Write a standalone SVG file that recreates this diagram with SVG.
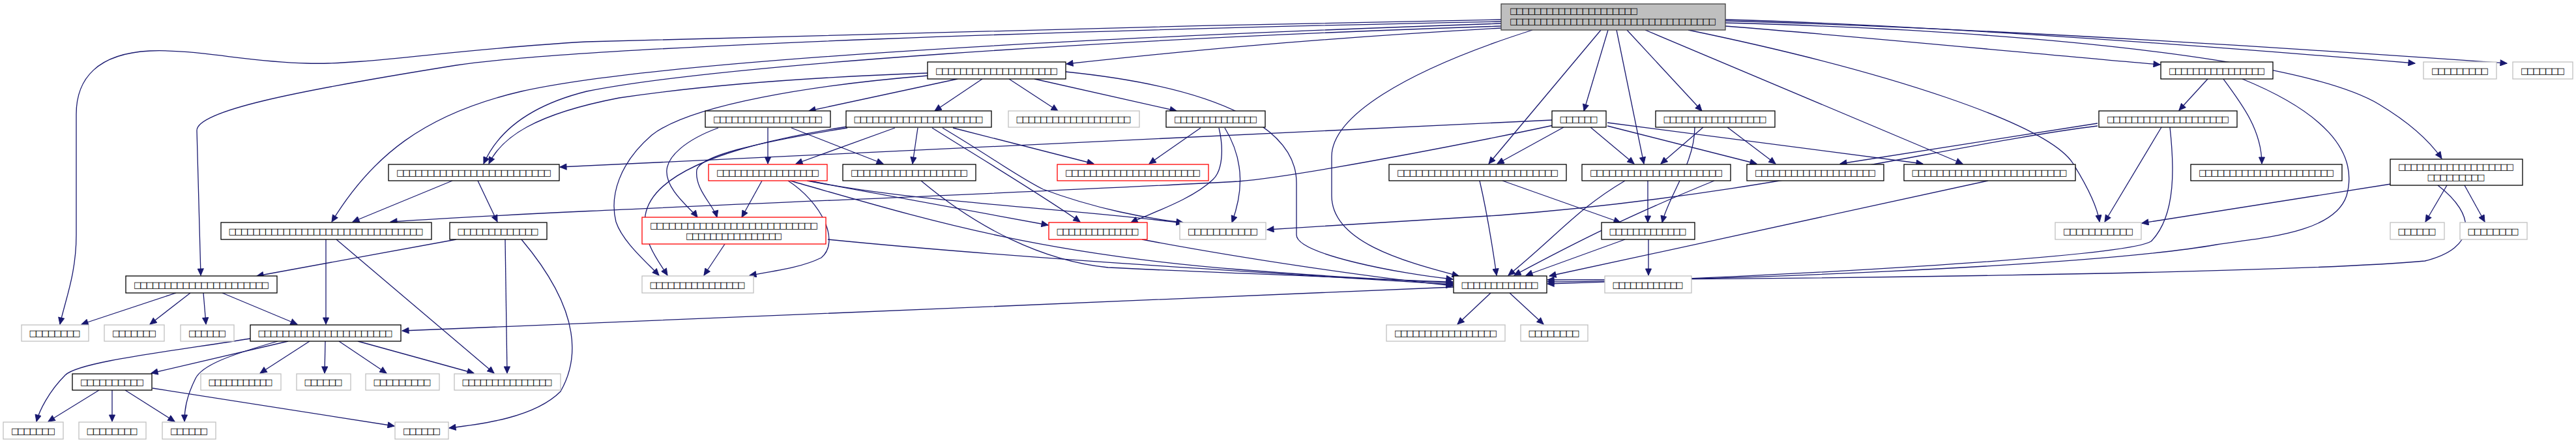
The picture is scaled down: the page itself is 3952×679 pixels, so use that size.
<svg xmlns="http://www.w3.org/2000/svg" width="3952" height="679" viewBox="0 0 3952 679">
<style>
.bk rect{fill:#fff;stroke:#000;stroke-width:1.3}
.gy rect{fill:#fff;stroke:#c0c0c0;stroke-width:1.3}
.rd rect{fill:#fff;stroke:#ff0000;stroke-width:1.3}
.root rect{fill:#bfbfbf;stroke:#404040;stroke-width:1.3}
text{font-family:"DejaVu Sans","Liberation Sans",sans-serif;font-size:13px;fill:#000;text-anchor:middle}
.lft{text-anchor:start}
#edges path{fill:none;stroke:#191970;stroke-width:1.3;marker-end:url(#ah)}
</style>
<defs>
<marker id="ah" viewBox="0 0 10 10" refX="10" refY="5" markerWidth="12" markerHeight="10" markerUnits="userSpaceOnUse" orient="auto">
<path d="M0,0.5 L10,5 L0,9.5 z" fill="#191970" stroke="#191970"/>
</marker>
</defs>
<rect width="3952" height="679" fill="#fff"/>
<g id="edges">
<path d="M2303,30 C1800,40 1100,55 900,64 C700,75 560,100 470,97 C380,95 300,75 230,78 C150,82 117,120 117,175 L117,360 C117,420 100,460 92,497"/>
<path d="M2303,33 C1700,45 900,70 700,100 C450,140 302,170 302,200 L308,422"/>
<path d="M2303,36 C1600,60 1000,95 800,140 C650,175 570,240 509,340"/>
<path d="M2303,40 C1700,60 1100,100 900,140 C800,165 760,210 742,251"/>
<path d="M1423,112 C1200,120 1050,135 950,150 C820,175 770,210 750,251"/>
<path d="M1423,116 C1250,130 1060,160 1000,207 C950,250 935,300 945,340 C955,370 990,400 1011,422"/>
<path d="M2303,43 C2000,60 1800,80 1636,98"/>
<path d="M1469,121 L1241,170"/>
<path d="M1507,121 L1434,170"/>
<path d="M1548,121 L1623,170"/>
<path d="M1587,121 L1805,170"/>
<path d="M1635,110 C1880,135 1989,200 1989,280 L1989,360 C1989,390 2150,420 2229,428"/>
<path d="M1102,196 C1050,215 1025,240 1023,260 C1020,290 1060,320 1070,333"/>
<path d="M1300,196 C1150,220 1075,240 1069,260 C1065,290 1095,315 1100,333"/>
<path d="M1300,194 C1100,225 1000,270 990,330 C985,370 1010,400 1024,422"/>
<path d="M1178,196 L1178,251"/>
<path d="M1214,196 L1355,251"/>
<path d="M1373,196 L1221,251"/>
<path d="M1408,196 L1400,251"/>
<path d="M1430,196 C1500,240 1600,300 1657,340"/>
<path d="M1446,196 C1520,240 1560,270 1600,290 C1680,320 1760,335 1815,341"/>
<path d="M1462,196 L1678,251"/>
<path d="M1842,196 L1763,251"/>
<path d="M1870,196 C1878,230 1875,262 1861,275 C1830,305 1770,325 1735,341"/>
<path d="M1879,196 C1912,250 1905,300 1890,341"/>
<path d="M2351,46 C2150,110 2043,180 2043,240 L2043,300 C2043,370 2150,400 2238,423"/>
<path d="M2456,46 L2284,251"/>
<path d="M2467,46 L2430,170"/>
<path d="M2480,46 L2522,251"/>
<path d="M2496,46 L2611,170"/>
<path d="M2524,46 L3011,251"/>
<path d="M2590,46 C2900,110 3140,190 3180,250 C3205,290 3218,320 3221,340"/>
<path d="M2647,40 C2900,60 3200,90 3314,99"/>
<path d="M2647,30 C3000,40 3500,80 3705,97"/>
<path d="M2647,32 C3100,45 3600,80 3846,97"/>
<path d="M2647,35 C3200,50 3550,100 3650,160 C3700,190 3730,220 3746,243"/>
<path d="M3387,121 L3343,169"/>
<path d="M3411,121 C3440,160 3470,200 3470,251"/>
<path d="M3440,121 C3560,170 3620,230 3600,300 C3580,360 3460,365 3400,375 C3200,410 2600,430 2374,432"/>
<path d="M3316,195 L3229,340"/>
<path d="M3329,195 C3335,250 3340,330 3300,370 C3260,395 2700,425 2374,435"/>
<path d="M3740,284 C3800,330 3800,380 3720,400 C3500,420 2700,428 2374,429"/>
<path d="M3668,282 L3286,342"/>
<path d="M3754,284 L3721,340"/>
<path d="M3781,284 L3812,340"/>
<path d="M3218,193 C3000,220 2700,300 2300,330 C2150,340 2050,345 1944,352"/>
<path d="M3218,189 L2823,251"/>
<path d="M2381,184 L859,256"/>
<path d="M2383,192 C2300,210 2000,270 1900,278 C1500,300 900,320 599,340"/>
<path d="M2399,195 L2297,251"/>
<path d="M2440,195 L2507,251"/>
<path d="M2466,193 L2695,251"/>
<path d="M2466,188 L2950,251"/>
<path d="M2613,195 L2548,251"/>
<path d="M2650,195 L2724,251"/>
<path d="M2600,195 C2600,250 2560,300 2550,341"/>
<path d="M2270,277 C2280,320 2290,380 2296,422"/>
<path d="M2305,277 L2486,341"/>
<path d="M2528,277 L2528,341"/>
<path d="M2493,277 C2420,320 2390,360 2314,422"/>
<path d="M2630,277 C2500,330 2420,370 2323,422"/>
<path d="M3050,277 C2900,310 2600,375 2377,423"/>
<path d="M2493,367 L2341,422"/>
<path d="M2529,367 L2529,422"/>
<path d="M2287,449 L2236,497"/>
<path d="M2316,449 L2368,497"/>
<path d="M2230,440 C1800,460 1000,490 617,507"/>
<path d="M1169,277 L1138,333"/>
<path d="M1209,277 C1260,310 1290,370 1260,395 C1230,410 1190,415 1150,422"/>
<path d="M1212,277 C1400,330 1574,387 1900,413 C2050,425 2150,430 2229,432"/>
<path d="M1238,277 L1608,345"/>
<path d="M1241,277 C1400,310 1650,320 1815,342"/>
<path d="M1112,374 L1080,422"/>
<path d="M1270,367 C1500,390 1800,410 2229,436"/>
<path d="M1413,277 C1500,350 1600,400 1700,410 C1900,420 2100,425 2229,434"/>
<path d="M1752,367 C1900,395 2100,425 2229,438"/>
<path d="M700,367 L394,423"/>
<path d="M775,367 L778,572"/>
<path d="M800,367 C870,450 900,530 860,600 C820,640 740,650 689,656"/>
<path d="M694,277 L541,340"/>
<path d="M733,277 L763,340"/>
<path d="M500,367 L500,497"/>
<path d="M516,367 L758,572"/>
<path d="M270,449 L125,497"/>
<path d="M292,449 L230,497"/>
<path d="M312,449 L316,497"/>
<path d="M341,449 L456,497"/>
<path d="M442,523 L232,572"/>
<path d="M384,519 C250,540 120,555 100,575 C75,600 60,630 56,646"/>
<path d="M426,523 C350,545 310,560 300,580 C285,610 283,630 283,646"/>
<path d="M475,523 L399,572"/>
<path d="M499,523 L498,572"/>
<path d="M520,523 L593,572"/>
<path d="M549,523 L727,572"/>
<path d="M152,598 L74,646"/>
<path d="M172,598 L172,646"/>
<path d="M192,598 L268,646"/>
<path d="M234,595 L605,653"/>
</g>
<g id="top" class="root"><rect x="2303" y="6" width="344" height="40"/><text class="lft" x="2316" y="21" textLength="197" lengthAdjust="spacing">□□□□□□□□□□□□□□□□□□□□□</text><text class="lft" x="2316" y="37" textLength="317" lengthAdjust="spacing">□□□□□□□□□□□□□□□□□□□□□□□□□□□□□□□□□□</text></g>
<g id="nA" class="bk"><rect x="1423" y="95" width="212" height="26"/><text x="1529" y="113" textLength="188" lengthAdjust="spacing">□□□□□□□□□□□□□□□□□□□□</text></g>
<g id="nE" class="bk"><rect x="3315" y="95" width="172" height="26"/><text x="3401" y="113" textLength="148" lengthAdjust="spacing">□□□□□□□□□□□□□□□□</text></g>
<g id="nF" class="gy"><rect x="3718" y="95" width="112" height="26"/><text x="3774" y="113" textLength="88" lengthAdjust="spacing">□□□□□□□□□</text></g>
<g id="nG" class="gy"><rect x="3855" y="95" width="92" height="26"/><text x="3901" y="113" textLength="68" lengthAdjust="spacing">□□□□□□□</text></g>
<g id="nH" class="bk"><rect x="1082" y="170" width="192" height="25"/><text x="1178" y="187" textLength="168" lengthAdjust="spacing">□□□□□□□□□□□□□□□□□□</text></g>
<g id="nI" class="bk"><rect x="1298" y="170" width="223" height="25"/><text x="1409" y="187" textLength="199" lengthAdjust="spacing">□□□□□□□□□□□□□□□□□□□□□</text></g>
<g id="nJ" class="gy"><rect x="1547" y="170" width="201" height="25"/><text x="1647" y="187" textLength="177" lengthAdjust="spacing">□□□□□□□□□□□□□□□□□□□</text></g>
<g id="nK" class="bk"><rect x="1789" y="170" width="152" height="25"/><text x="1865" y="187" textLength="128" lengthAdjust="spacing">□□□□□□□□□□□□□□</text></g>
<g id="nL" class="bk"><rect x="2381" y="170" width="83" height="25"/><text x="2422" y="187" textLength="59" lengthAdjust="spacing">□□□□□□</text></g>
<g id="nM" class="bk"><rect x="2540" y="170" width="183" height="25"/><text x="2631" y="187" textLength="159" lengthAdjust="spacing">□□□□□□□□□□□□□□□□□</text></g>
<g id="nN" class="bk"><rect x="3220" y="170" width="212" height="25"/><text x="3326" y="187" textLength="188" lengthAdjust="spacing">□□□□□□□□□□□□□□□□□□□□</text></g>
<g id="nB" class="bk"><rect x="596" y="252" width="262" height="25"/><text x="727" y="269" textLength="238" lengthAdjust="spacing">□□□□□□□□□□□□□□□□□□□□□□□□□</text></g>
<g id="nP" class="rd"><rect x="1087" y="252" width="182" height="25"/><text x="1178" y="269" textLength="158" lengthAdjust="spacing">□□□□□□□□□□□□□□□□□</text></g>
<g id="nQ" class="bk"><rect x="1293" y="252" width="204" height="25"/><text x="1395" y="269" textLength="180" lengthAdjust="spacing">□□□□□□□□□□□□□□□□□□□</text></g>
<g id="nR" class="rd"><rect x="1622" y="252" width="232" height="25"/><text x="1738" y="269" textLength="208" lengthAdjust="spacing">□□□□□□□□□□□□□□□□□□□□□□</text></g>
<g id="nS" class="bk"><rect x="2131" y="252" width="272" height="25"/><text x="2267" y="269" textLength="248" lengthAdjust="spacing">□□□□□□□□□□□□□□□□□□□□□□□□□□</text></g>
<g id="nT" class="bk"><rect x="2427" y="252" width="228" height="25"/><text x="2541" y="269" textLength="204" lengthAdjust="spacing">□□□□□□□□□□□□□□□□□□□□□</text></g>
<g id="nT2" class="bk"><rect x="2680" y="252" width="210" height="25"/><text x="2785" y="269" textLength="186" lengthAdjust="spacing">□□□□□□□□□□□□□□□□□□□□</text></g>
<g id="nU" class="bk"><rect x="2921" y="252" width="263" height="25"/><text x="3052" y="269" textLength="239" lengthAdjust="spacing">□□□□□□□□□□□□□□□□□□□□□□□□□</text></g>
<g id="nV" class="bk"><rect x="3361" y="252" width="232" height="25"/><text x="3477" y="269" textLength="208" lengthAdjust="spacing">□□□□□□□□□□□□□□□□□□□□□□</text></g>
<g id="nO" class="bk"><rect x="3667" y="244" width="203" height="40"/><text x="3768" y="260" textLength="178" lengthAdjust="spacing">□□□□□□□□□□□□□□□□□□□</text><text x="3768" y="276" textLength="89" lengthAdjust="spacing">□□□□□□□□□</text></g>
<g id="nW" class="bk"><rect x="339" y="341" width="323" height="26"/><text x="500" y="359" textLength="299" lengthAdjust="spacing">□□□□□□□□□□□□□□□□□□□□□□□□□□□□□□□□</text></g>
<g id="nX" class="bk"><rect x="690" y="341" width="149" height="26"/><text x="764" y="359" textLength="125" lengthAdjust="spacing">□□□□□□□□□□□□□</text></g>
<g id="nY" class="rd"><rect x="985" y="333" width="282" height="41"/><text x="1126" y="350" textLength="258" lengthAdjust="spacing">□□□□□□□□□□□□□□□□□□□□□□□□□□□</text><text x="1126" y="366" textLength="148" lengthAdjust="spacing">□□□□□□□□□□□□□□□□</text></g>
<g id="nZ" class="rd"><rect x="1609" y="341" width="151" height="26"/><text x="1684" y="359" textLength="127" lengthAdjust="spacing">□□□□□□□□□□□□□□</text></g>
<g id="nAA" class="gy"><rect x="1810" y="341" width="132" height="26"/><text x="1876" y="359" textLength="108" lengthAdjust="spacing">□□□□□□□□□□□</text></g>
<g id="nCC" class="bk"><rect x="2457" y="341" width="143" height="26"/><text x="2528" y="359" textLength="119" lengthAdjust="spacing">□□□□□□□□□□□□□</text></g>
<g id="nGG" class="gy"><rect x="3153" y="341" width="132" height="26"/><text x="3219" y="359" textLength="108" lengthAdjust="spacing">□□□□□□□□□□□</text></g>
<g id="nHH" class="gy"><rect x="3667" y="341" width="83" height="26"/><text x="3708" y="359" textLength="59" lengthAdjust="spacing">□□□□□□</text></g>
<g id="nII" class="gy"><rect x="3774" y="341" width="103" height="26"/><text x="3825" y="359" textLength="79" lengthAdjust="spacing">□□□□□□□□</text></g>
<g id="nD" class="bk"><rect x="193" y="423" width="232" height="26"/><text x="309" y="441" textLength="208" lengthAdjust="spacing">□□□□□□□□□□□□□□□□□□□□□□</text></g>
<g id="nNN" class="gy"><rect x="985" y="423" width="171" height="26"/><text x="1070" y="441" textLength="147" lengthAdjust="spacing">□□□□□□□□□□□□□□□□</text></g>
<g id="nBB" class="bk"><rect x="2230" y="423" width="143" height="26"/><text x="2301" y="441" textLength="119" lengthAdjust="spacing">□□□□□□□□□□□□□</text></g>
<g id="nDD" class="gy"><rect x="2462" y="423" width="133" height="26"/><text x="2528" y="441" textLength="109" lengthAdjust="spacing">□□□□□□□□□□□□</text></g>
<g id="nC" class="gy"><rect x="33" y="498" width="103" height="25"/><text x="84" y="515" textLength="79" lengthAdjust="spacing">□□□□□□□□</text></g>
<g id="nC2" class="gy"><rect x="160" y="498" width="92" height="25"/><text x="206" y="515" textLength="68" lengthAdjust="spacing">□□□□□□□</text></g>
<g id="nC3" class="gy"><rect x="277" y="498" width="82" height="25"/><text x="318" y="515" textLength="58" lengthAdjust="spacing">□□□□□□</text></g>
<g id="nJJ" class="bk"><rect x="384" y="498" width="231" height="25"/><text x="499" y="515" textLength="207" lengthAdjust="spacing">□□□□□□□□□□□□□□□□□□□□□□</text></g>
<g id="nEE" class="gy"><rect x="2127" y="498" width="182" height="25"/><text x="2218" y="515" textLength="158" lengthAdjust="spacing">□□□□□□□□□□□□□□□□□</text></g>
<g id="nFF" class="gy"><rect x="2333" y="498" width="103" height="25"/><text x="2384" y="515" textLength="79" lengthAdjust="spacing">□□□□□□□□</text></g>
<g id="nKK" class="bk"><rect x="111" y="573" width="122" height="25"/><text x="172" y="590" textLength="98" lengthAdjust="spacing">□□□□□□□□□□</text></g>
<g id="nK1" class="gy"><rect x="308" y="573" width="123" height="25"/><text x="369" y="590" textLength="99" lengthAdjust="spacing">□□□□□□□□□□□</text></g>
<g id="nK2" class="gy"><rect x="455" y="573" width="83" height="25"/><text x="496" y="590" textLength="59" lengthAdjust="spacing">□□□□□□</text></g>
<g id="nK3" class="gy"><rect x="561" y="573" width="113" height="25"/><text x="617" y="590" textLength="89" lengthAdjust="spacing">□□□□□□□□□</text></g>
<g id="nLL" class="gy"><rect x="697" y="573" width="163" height="25"/><text x="778" y="590" textLength="139" lengthAdjust="spacing">□□□□□□□□□□□□□□□</text></g>
<g id="nB1" class="gy"><rect x="5" y="647" width="92" height="26"/><text x="51" y="665" textLength="68" lengthAdjust="spacing">□□□□□□□</text></g>
<g id="nB2" class="gy"><rect x="121" y="647" width="103" height="26"/><text x="172" y="665" textLength="79" lengthAdjust="spacing">□□□□□□□□</text></g>
<g id="nB3" class="gy"><rect x="249" y="647" width="82" height="26"/><text x="290" y="665" textLength="58" lengthAdjust="spacing">□□□□□□</text></g>
<g id="nMM" class="gy"><rect x="606" y="647" width="82" height="26"/><text x="647" y="665" textLength="58" lengthAdjust="spacing">□□□□□□</text></g>
</svg>
